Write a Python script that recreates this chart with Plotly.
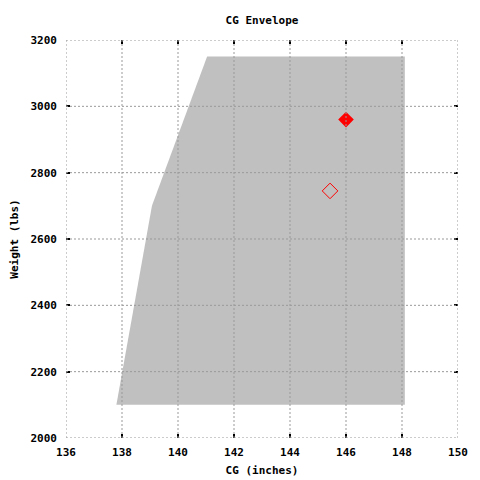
import plotly.graph_objects as go

# Envelope polygon (CG inches, weight lbs)
env_cg = [137.8, 139.07, 141.04, 148.1, 148.1, 137.8]
env_wt = [2100, 2700, 3150, 3150, 2100, 2100]

# Points
p1_cg = [146.0]
p1_wt = [2960]
p2_cg = [145.43]
p2_wt = [2745]

x_ticks = [136, 138, 140, 142, 144, 146, 148, 150]
y_ticks = [2000, 2200, 2400, 2600, 2800, 3000, 3200]

FONT = dict(family="DejaVu Sans Mono", size=11, color="black", weight="bold")

W = H = 472

fig = go.Figure()
fig.add_trace(go.Scatter(x=env_cg, y=env_wt, fill="toself", fillcolor="#c0c0c0",
                         mode="lines", line=dict(width=0, color="#c0c0c0"),
                         hoverinfo="skip", showlegend=False))
fig.add_trace(go.Scatter(x=p1_cg, y=p1_wt, mode="markers",
                         marker=dict(symbol="diamond", size=12, color="red",
                                     line=dict(width=0)), showlegend=False))
fig.add_trace(go.Scatter(x=p2_cg, y=p2_wt, mode="markers",
                         marker=dict(symbol="diamond-open", size=12, color="red",
                                     line=dict(width=1, color="red")), showlegend=False))

shapes = []
for xv in x_ticks:
    shapes.append(dict(type="line", xref="x", yref="y", x0=xv, x1=xv,
                       y0=y_ticks[0], y1=y_ticks[-1], layer="above",
                       line=dict(color="#999999", width=1, dash="2px,2px")))
for yv in y_ticks:
    shapes.append(dict(type="line", xref="x", yref="y", x0=x_ticks[0], x1=x_ticks[-1],
                       y0=yv, y1=yv, layer="above",
                       line=dict(color="#999999", width=1, dash="2px,2px")))

fig.update_layout(
    width=W, height=H,
    margin=dict(l=58, r=22, t=32, b=42),
    paper_bgcolor="white", plot_bgcolor="white",
    font=FONT,
    title=dict(text="CG Envelope", x=254/W, xanchor="center", y=1-12/H, yanchor="middle",
               font=FONT),
    shapes=shapes,
    xaxis=dict(range=[136, 150], tickvals=x_ticks, ticks="inside", ticklen=4,
               tickcolor="black", tickwidth=2, mirror="ticks", showgrid=False,
               zeroline=False, showline=False, tickfont=FONT, automargin=False,
               ticklabelstandoff=6,
               title=dict(text="CG (inches)", font=FONT, standoff=8)),
    yaxis=dict(range=[2000, 3200], tickvals=y_ticks, ticks="inside", ticklen=4,
               tickcolor="black", tickwidth=2, mirror="ticks", showgrid=False,
               zeroline=False, showline=False, tickfont=FONT, automargin=False,
               ticklabelstandoff=8,
               title=dict(text="Weight (lbs)", font=FONT, standoff=10)),
)

fig.write_html("out.html")
